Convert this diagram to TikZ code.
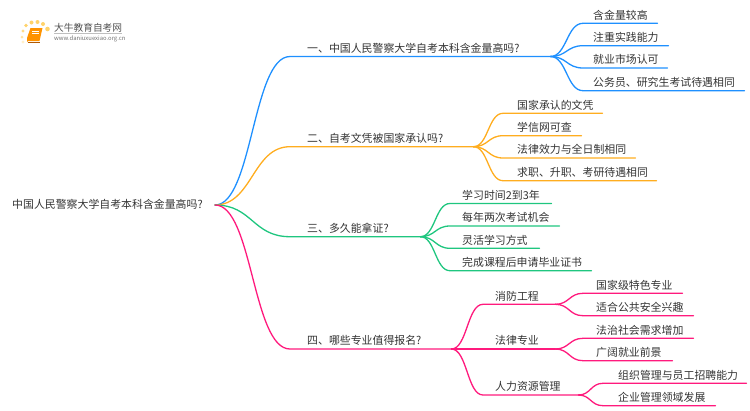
\documentclass[tikz,border=0pt]{standalone}
\usepackage{fontspec}
\setmainfont{Noto Sans CJK SC}
\usetikzlibrary{calc}
\definecolor{cblue}{HTML}{1E90FF}
\definecolor{corange}{HTML}{FFAD1F}
\definecolor{cgreen}{HTML}{1FC67F}
\definecolor{cpink}{HTML}{FF1A7D}
\definecolor{ctext}{HTML}{333333}
\definecolor{cdot}{HTML}{FFD36B}
\tikzset{
  lbl/.style={anchor=south west,inner sep=0pt,text width=#1,align=left,font=\fontsize{10.9pt}{12pt}\selectfont,text=ctext,text height=10pt,text depth=4pt},
  lnk/.style={line width=1.3pt,line cap=round},
  logodot/.style={circle,inner sep=0pt,fill=cdot,draw=none,minimum size=#1},
  logotitle/.style={anchor=west,inner sep=0pt,font=\fontsize{9.7pt}{10pt}\selectfont,text=ctext!85},
  logourl/.style={anchor=west,inner sep=0pt,font=\fontsize{5.9pt}{6pt}\selectfont,text=black!55},
}
% \lnkto{colour}{from}{to node}{gap}: curve from a junction to just before a label, then the rule under the label
\newcommand{\lnkto}[4]{%
  \path (#2) coordinate (tmpa);
  \path (#3.south west) ++(-#4,0) coordinate (tmpb);
  \draw[lnk,#1] (tmpa) .. controls ($(tmpa)!.5!(tmpb|-tmpa)$) and ($(tmpb)!.5!(tmpa|-tmpb)$) .. (tmpb) -- (#3.south east);
}
\begin{document}
\begin{tikzpicture}[x=1pt,y=-1pt]
\useasboundingbox (0,0) rectangle (750,410);
% logo
\node[logodot=3.4pt,opacity=.35] at (23,42) {};
\node[logodot=3pt,opacity=.6] at (22,37) {};
\node[logodot=3.4pt,opacity=.8] at (23,31) {};
\node[logodot=3.6pt] at (26,25.5) {};
\node[logodot=4pt] at (31.5,22.5) {};
\node[logodot=4pt] at (37.5,22) {};
\node[logodot=4pt] at (43,24) {};
\node[logodot=4.6pt] at (47.5,29) {};
\fill[orange!85!yellow] (30.5,28) -- (42.5,28) -- (39.5,41) -- (28,41) -- (27,42) .. controls (26.5,40) .. (27,38) -- cycle;
\draw[white,line width=.5pt] (32,31) -- (39,31) (31.5,33.5) -- (38.5,33.5);
\draw[orange!70!black,line width=.5pt] (27.5,42.2) -- (39.5,42.2);
\node[logotitle] (lt) at (54,27.5) {大牛教育自考网};
\draw[black!25,line width=.4pt] (54,33.2) -- (122,33.2);
\node[logourl] (lu) at (54,38.7) {www.daniuxuexiao.org.cn};
% root
\node[lbl=195pt] (root) at (12,213) {中国人民警察大学自考本科含金量高吗?};
\coordinate (r) at (215,205);
% labels
\node[lbl=243pt] (b1) at (307,56.5) {一、中国人民警察大学自考本科含金量高吗?};
\node[lbl=64pt] (a1) at (593,23.3) {含金量较高};
\node[lbl=75pt] (a2) at (593,45.7) {注重实践能力};
\node[lbl=74pt] (a3) at (593,68) {就业市场认可};
\node[lbl=151pt] (a4) at (593,90.7) {公务员、研究生考试待遇相同};
\node[lbl=166pt] (b2) at (307,146.7) {二、自考文凭被国家承认吗?};
\node[lbl=85pt] (c1) at (517,113.3) {国家承认的文凭};
\node[lbl=64pt] (c2) at (517,135.7) {学信网可查};
\node[lbl=118pt] (c3) at (517,158) {法律效力与全日制相同};
\node[lbl=139pt] (c4) at (517,180.7) {求职、升职、考研待遇相同};
\node[lbl=113pt] (b3) at (307,236.7) {三、多久能拿证?};
\node[lbl=89pt] (e1) at (462,203.5) {学习时间2到3年};
\node[lbl=97pt] (e2) at (462,226) {每年两次考试机会};
\node[lbl=77pt] (e3) at (462,248.3) {灵活学习方式};
\node[lbl=129pt] (e4) at (462,270.7) {完成课程后申请毕业证书};
\node[lbl=144pt] (b4) at (307,349) {四、哪些专业值得报名?};
\node[lbl=60pt] (f1) at (495,304.3) {消防工程};
\node[lbl=60pt] (f2) at (495,349) {法律专业};
\node[lbl=83pt] (f3) at (495,395) {人力资源管理};
\node[lbl=86pt] (g1) at (596,293.3) {国家级特色专业};
\node[lbl=97pt] (g2) at (596,315.7) {适合公共安全兴趣};
\node[lbl=97pt] (g3) at (596,338.3) {法治社会需求增加};
\node[lbl=76pt] (g4) at (596,360.7) {广阔就业前景};
\node[lbl=128pt] (h1) at (618,383.3) {组织管理与员工招聘能力};
\node[lbl=97pt] (h2) at (618,405.7) {企业管理领域发展};
% connectors
\lnkto{cblue}{r}{b1}{17}
\lnkto{corange}{r}{b2}{17}
\lnkto{cgreen}{r}{b3}{17}
\lnkto{cpink}{r}{b4}{17}
\foreach \n in {a1,a2,a3,a4} {\lnkto{cblue}{b1.south east}{\n}{10}}
\foreach \n in {c1,c2,c3,c4} {\lnkto{corange}{b2.south east}{\n}{14}}
\foreach \n in {e1,e2,e3,e4} {\lnkto{cgreen}{b3.south east}{\n}{12}}
\foreach \n in {f1,f2,f3} {\lnkto{cpink}{b4.south east}{\n}{12}}
\foreach \n in {g1,g2} {\lnkto{cpink}{f1.south east}{\n}{13}}
\foreach \n in {g3,g4} {\lnkto{cpink}{f2.south east}{\n}{13}}
\foreach \n in {h1,h2} {\lnkto{cpink}{f3.south east}{\n}{15}}
\end{tikzpicture}
\end{document}
